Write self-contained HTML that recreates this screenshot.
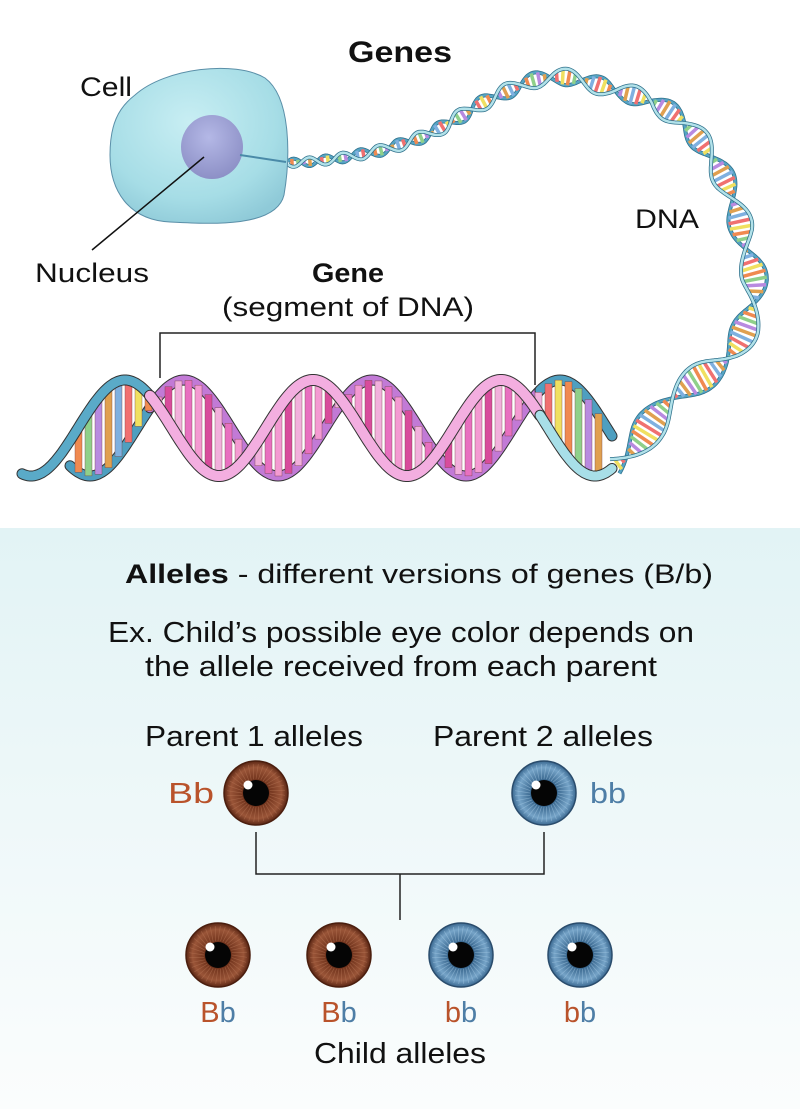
<!DOCTYPE html>
<html><head><meta charset="utf-8"><style>
html,body{margin:0;padding:0;background:#fff}
svg{display:block}
text{font-family:"Liberation Sans Narrow","Liberation Sans",sans-serif;fill:#111}
</style></head><body>
<svg id="s" width="800" height="1109" viewBox="0 0 800 1109" xmlns="http://www.w3.org/2000/svg">
<defs>
<linearGradient id="bg" x1="0" y1="0" x2="0" y2="1"><stop offset="0" stop-color="#e2f3f5"/><stop offset="1" stop-color="#fbfdfd"/></linearGradient>
<radialGradient id="cellg" cx="0.45" cy="0.35" r="0.7"><stop offset="0" stop-color="#c8eef3"/><stop offset="0.7" stop-color="#a6dde6"/><stop offset="1" stop-color="#8fcad8"/></radialGradient>
<radialGradient id="nucg" cx="0.45" cy="0.35" r="0.7"><stop offset="0" stop-color="#b4b8e6"/><stop offset="1" stop-color="#8a8dc4"/></radialGradient>
<radialGradient id="brown" cx="0.5" cy="0.5" r="0.5"><stop offset="0.35" stop-color="#6a2e18"/><stop offset="0.8" stop-color="#9a5538"/><stop offset="1" stop-color="#5a2614"/></radialGradient>
<radialGradient id="blue" cx="0.5" cy="0.5" r="0.5"><stop offset="0.35" stop-color="#2f5d85"/><stop offset="0.8" stop-color="#76a4c8"/><stop offset="1" stop-color="#3a6890"/></radialGradient>
</defs>
<rect x="0" y="528" width="800" height="581" fill="url(#bg)"/>
<g id="dna"></g>
<!-- cell -->
<path d="M135,95 C165,68 235,60 265,78 C292,98 290,160 284,195 C276,228 210,224 170,222 C128,220 110,190 110,155 C110,125 118,108 135,95 Z" fill="url(#cellg)" stroke="#5a8fa8" stroke-width="1"/>
<ellipse cx="212" cy="147" rx="31" ry="32" fill="url(#nucg)"/>
<path d="M240,155 L286,162" stroke="#4a8aa8" stroke-width="2"/>
<line x1="204" y1="157" x2="92" y2="250" stroke="#111" stroke-width="1.5"/>
<text x="400" y="62" text-anchor="middle" font-size="30" font-weight="bold" textLength="104" lengthAdjust="spacingAndGlyphs">Genes</text>
<text x="80" y="96" font-size="27" textLength="52" lengthAdjust="spacingAndGlyphs">Cell</text>
<text x="35" y="282" font-size="27" textLength="114" lengthAdjust="spacingAndGlyphs">Nucleus</text>
<text x="635" y="228" font-size="27" textLength="64" lengthAdjust="spacingAndGlyphs">DNA</text>
<text x="348" y="282" text-anchor="middle" font-size="27" font-weight="bold" textLength="72" lengthAdjust="spacingAndGlyphs">Gene</text>
<text x="348" y="316" text-anchor="middle" font-size="27" textLength="252" lengthAdjust="spacingAndGlyphs">(segment of DNA)</text>
<path d="M160,378 V333 H535 V385" fill="none" stroke="#222" stroke-width="1.5"/>
<!-- lower -->
<text x="125" y="583" font-size="27" textLength="588" lengthAdjust="spacingAndGlyphs"><tspan font-weight="bold">Alleles</tspan> - different versions of genes (B/b)</text>
<text x="108" y="642" font-size="29" textLength="586" lengthAdjust="spacingAndGlyphs">Ex. Child’s possible eye color depends on</text>
<text x="145" y="676" font-size="29" textLength="512" lengthAdjust="spacingAndGlyphs">the allele received from each parent</text>
<text x="145" y="746" font-size="29" textLength="218" lengthAdjust="spacingAndGlyphs">Parent 1 alleles</text>
<text x="433" y="746" font-size="29" textLength="220" lengthAdjust="spacingAndGlyphs">Parent 2 alleles</text>
<text x="168" y="803" font-size="29" style="fill:#b9532b" textLength="46" lengthAdjust="spacingAndGlyphs">Bb</text>
<text x="590" y="803" font-size="29" style="fill:#4e7ea6" textLength="36" lengthAdjust="spacingAndGlyphs">bb</text>
<path d="M256,832 V874 H544 V832 M400,874 V920" fill="none" stroke="#222" stroke-width="1.5"/>
<g id="eyes"></g>
<text x="218" y="1022" text-anchor="middle" font-size="29"><tspan style="fill:#b9532b">B</tspan><tspan style="fill:#4e7ea6">b</tspan></text>
<text x="339" y="1022" text-anchor="middle" font-size="29"><tspan style="fill:#b9532b">B</tspan><tspan style="fill:#4e7ea6">b</tspan></text>
<text x="461" y="1022" text-anchor="middle" font-size="29"><tspan style="fill:#b9532b">b</tspan><tspan style="fill:#4e7ea6">b</tspan></text>
<text x="580" y="1022" text-anchor="middle" font-size="29"><tspan style="fill:#b9532b">b</tspan><tspan style="fill:#4e7ea6">b</tspan></text>
<text x="400" y="1063" text-anchor="middle" font-size="29" textLength="172" lengthAdjust="spacingAndGlyphs">Child alleles</text>
<path id="toppath" fill="none" stroke="none" d="M286,163 C320,162 340,158 357,155 C390,150 415,140 434,132 C455,120 470,110 485,102 C505,92 520,84 536,80 C550,77 560,76 566,77 C585,80 600,86 612,90 C630,94 640,96 653,102 C670,112 680,118 689,128 C705,145 715,160 728,187 C738,210 740,220 742,233 C746,255 752,265 755,280 C758,300 750,315 745,330 C738,350 725,365 700,378 C675,392 660,410 648,430 C638,448 625,460 612,468"/>
</svg>
<script>
(function(){
var NS="http://www.w3.org/2000/svg";
function el(t,a,p){var e=document.createElementNS(NS,t);for(var k in a)e.setAttribute(k,a[k]);p.appendChild(e);return e;}
var dna=document.getElementById('dna');
var multi=['#f0e060','#f08a50','#8fd08a','#b88ae0','#e0a050','#7fb0e0','#f07070'];
var back=el('g',{},dna), rung=el('g',{},dna), front=el('g',{},dna);
function y1(x){return 428-48*Math.cos(2*Math.PI*(x-125)/188);}
function y2(x){return 428-48*Math.cos(2*Math.PI*(x-184)/188);}
function pinkAt(x){return x>150&&x<540;}
var i=0;
for(var x=78;x<600;x+=10){i++;
  var a=y1(x),b=y2(x);
  var c=pinkAt(x)?(['#e870c0','#f49ad2','#d84c9c','#f2b0dc'][i%4]):multi[i%multi.length];
  el('rect',{x:x-3,y:Math.min(a,b),width:7,height:Math.abs(a-b),fill:c,stroke:'#744','stroke-width':0.4},rung);
}
function strand(f,xs,xe,col,w,g){
  var d='';for(var x=xs;x<=xe;x+=2){d+=(x==xs?'M':'L')+x+','+f(x).toFixed(1);}
  el('path',{d:d,fill:'none',stroke:'#333',"stroke-width":w+2,"stroke-linecap":'round'},g);
  el('path',{d:d,fill:'none',stroke:col,"stroke-width":w,"stroke-linecap":'round'},g);
}
strand(y2,70,150,'#4e9fc0',9,back);strand(y2,150,540,'#c27ad6',9,back);strand(y2,540,612,'#4e9fc0',9,back);
strand(y1,22,150,'#5aaac8',9,front);strand(y1,150,540,'#f3aee0',10,front);strand(y1,540,612,'#a8dfe8',9,front);
var p=document.getElementById('toppath');var L=p.getTotalLength();
var pts=[];for(var s=0;s<=L;s+=2){pts.push(p.getPointAtLength(s));}
var sA='',sB='';var k=0;
for(var j=1;j<pts.length-1;j++){
  var P=pts[j],dx=pts[j+1].x-pts[j-1].x,dy=pts[j+1].y-pts[j-1].y,n=Math.hypot(dx,dy)||1;
  var nx=-dy/n,ny=dx/n,t=j/pts.length,w=4+12*t,per=30+40*t;
  var ph=2*Math.PI*(j*2)/per;
  var ax=P.x+nx*w*Math.sin(ph),ay=P.y+ny*w*Math.sin(ph);
  var bx=P.x-nx*w*Math.sin(ph),by=P.y-ny*w*Math.sin(ph);
  sA+=(j==1?'M':'L')+ax.toFixed(1)+','+ay.toFixed(1);
  sB+=(j==1?'M':'L')+bx.toFixed(1)+','+by.toFixed(1);
  if(j%3==0){k++;el('line',{x1:ax,y1:ay,x2:bx,y2:by,stroke:multi[k%multi.length],"stroke-width":3.5},rung);}
}
el('path',{d:sB,fill:'none',stroke:'#2d6f8a',"stroke-width":4},back);
el('path',{d:sB,fill:'none',stroke:'#55a4c4',"stroke-width":2.5},back);
el('path',{d:sA,fill:'none',stroke:'#2d6f8a',"stroke-width":4},front);
el('path',{d:sA,fill:'none',stroke:'#b2e2ea',"stroke-width":2.5},front);
var eyes=document.getElementById('eyes');
[[256,793,'brown'],[544,793,'blue'],[218,955,'brown'],[339,955,'brown'],[461,955,'blue'],[580,955,'blue']].forEach(function(e){
  el('circle',{cx:e[0],cy:e[1],r:32,fill:'url(#'+e[2]+')',stroke:e[2]=='brown'?'#4a1e0e':'#2a4c6c',"stroke-width":1.5},eyes);
  for(var a=0;a<36;a++){var an=a*Math.PI/18;el('line',{x1:e[0]+14*Math.cos(an),y1:e[1]+14*Math.sin(an),x2:e[0]+29*Math.cos(an+0.08),y2:e[1]+29*Math.sin(an+0.08),stroke:e[2]=='brown'?'#b87858':'#a8cce6',"stroke-width":0.7,opacity:0.5},eyes);}
  el('circle',{cx:e[0],cy:e[1],r:13,fill:'#050505'},eyes);
  el('circle',{cx:e[0]-8,cy:e[1]-8,r:4.5,fill:'#fff'},eyes);
});
})();
</script>
</body></html>
